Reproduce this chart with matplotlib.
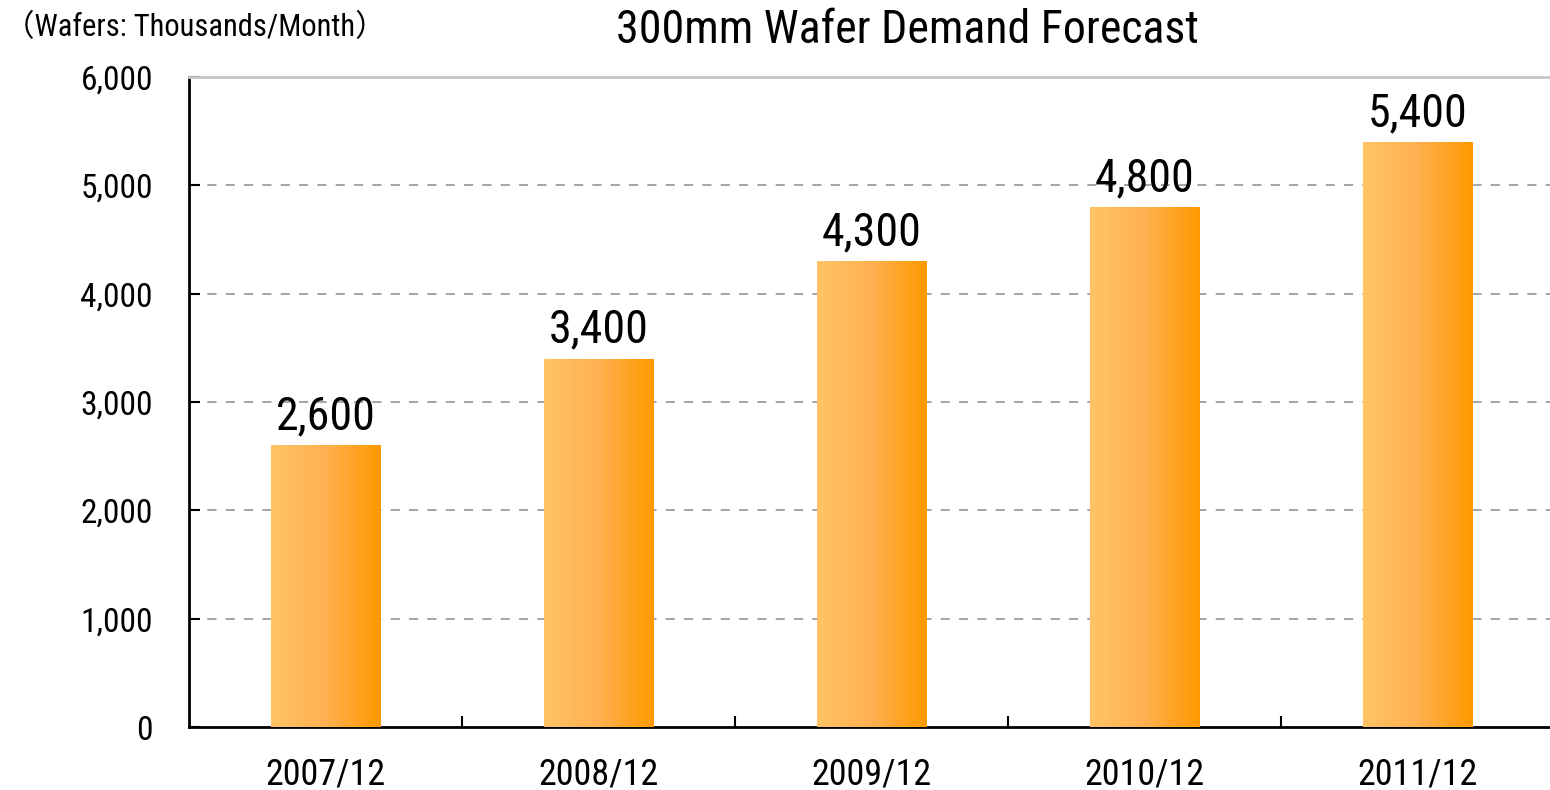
import matplotlib
matplotlib.use("Agg")
import matplotlib.pyplot as plt
import numpy as np
from matplotlib.colors import LinearSegmentedColormap
from matplotlib.ticker import FuncFormatter, FixedLocator

plt.rcParams['font.family'] = ['Roboto Condensed', 'Noto Sans CJK JP', 'DejaVu Sans']

categories = ["2007/12", "2008/12", "2009/12", "2010/12", "2011/12"]
values = [2600, 3400, 4300, 4800, 5400]
value_labels = ["2,600", "3,400", "4,300", "4,800", "5,400"]
y_ticks = [0, 1000, 2000, 3000, 4000, 5000, 6000]
title = "300mm Wafer Demand Forecast"
unit_label = "（Wafers: Thousands/Month）"

W, H = 1550, 790
fig = plt.figure(figsize=(W / 100, H / 100), dpi=100)
ax = fig.add_axes([189 / W, 63 / H, (W - 189) / W, 650 / H])

x = np.arange(len(categories))
bar_w = 0.4
bars = ax.bar(x, values, width=bar_w, color='none', edgecolor='none', zorder=3)

cmap = LinearSegmentedColormap.from_list('org', ['#FFC467', '#FFB050', '#FF9900'])
grad = np.linspace(0, 1, 256).reshape(1, -1)
for b in bars:
    x0, y0 = b.get_x(), b.get_y()
    w, h = b.get_width(), b.get_height()
    im = ax.imshow(grad, cmap=cmap, aspect='auto', extent=[x0, x0 + w, y0, y0 + h],
                   zorder=3, interpolation='bicubic')
    im.set_clip_path(b)

for xi, v, lab in zip(x, values, value_labels):
    ax.annotate(lab, (xi, v), xytext=(0, 5), textcoords='offset points',
                ha='center', va='bottom', fontsize=33, color='black', zorder=4)

ax.set_xlim(-0.5, -0.5 + (W - 189) / 273)
ax.set_ylim(0, 6000)

ax.set_yticks(y_ticks)
ax.yaxis.set_major_formatter(FuncFormatter(lambda v, p: f"{int(v):,}"))
ax.tick_params(axis='y', direction='in', length=8, width=1.5, labelsize=24, pad=26, colors='black')

ax.set_xticks(x)
ax.set_xticklabels(categories)
ax.tick_params(axis='x', which='major', length=0, labelsize=26, pad=21)
ax.xaxis.set_minor_locator(FixedLocator([0.5, 1.5, 2.5, 3.5]))
ax.tick_params(axis='x', which='minor', direction='in', length=8, width=1.5)

for yv in y_ticks[1:-1]:
    ax.axhline(yv, color='#8c8c8c', linewidth=1.1, linestyle=(0, (6, 6)), zorder=1)

ax.spines['right'].set_visible(False)
ax.spines['top'].set_color('#c8c8c8')
ax.spines['top'].set_linewidth(2)
ax.spines['left'].set_linewidth(2)
ax.spines['bottom'].set_linewidth(2)

fig.text(907 / W, 1 - 43 / H, title, ha='center', va='baseline', fontsize=33)
fig.text(4 / W, 1 - 36 / H, unit_label, ha='left', va='baseline', fontsize=22)

fig.savefig('out.png', dpi=100)
